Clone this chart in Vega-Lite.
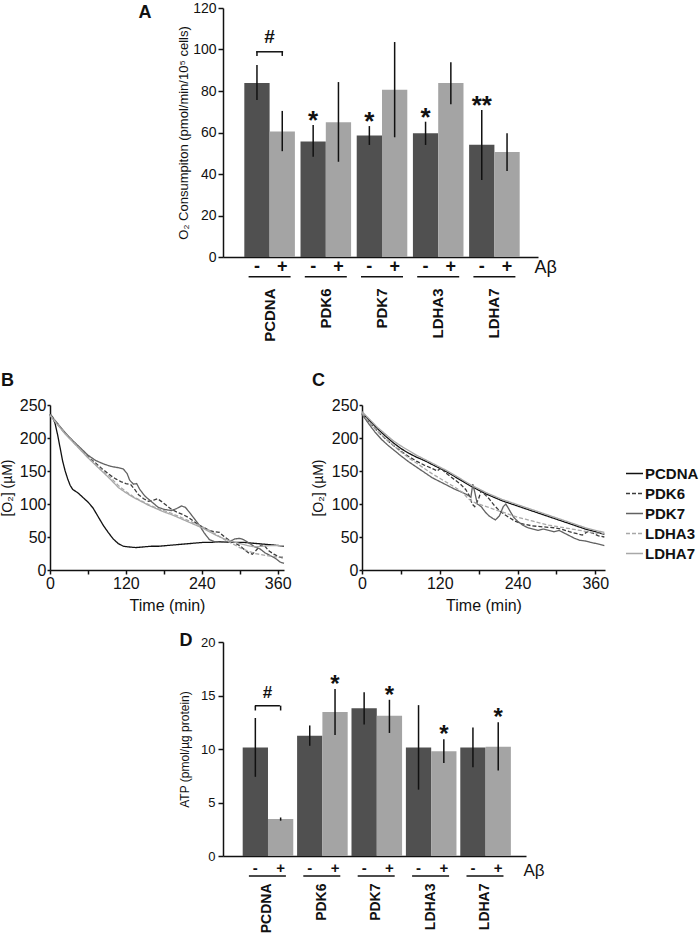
{
  "$schema": "https://vega.github.io/schema/vega-lite/v6.json",
  "padding": {"top": 1, "left": 0, "right": 0, "bottom": 0},
  "background": "white",
  "spacing": 29,
  "resolve": {"scale": {"color": "independent", "strokeDash": "independent"}, "legend": {"color": "independent", "strokeDash": "independent"}},
  "config": {
    "view": {"stroke": null},
    "font": "Liberation Sans",
    "axis": {"grid": false, "domainColor": "#111", "tickColor": "#111", "labelColor": "#111", "titleColor": "#111", "labelFont": "Liberation Sans", "titleFont": "Liberation Sans", "domainWidth": 1.5, "tickWidth": 1.5},
    "text": {"font": "Liberation Sans", "color": "#111"},
    "title": {"font": "Liberation Sans", "color": "#111"},
    "legend": {"labelFont": "Liberation Sans"}
  },
  "datasets": {
    "a": [
      {"g": "PCDNA", "c": "-", "v": 83.9, "lo": 75.7, "hi": 92.5, "sig": ""},
      {"g": "PCDNA", "c": "+", "v": 60.5, "lo": 51.0, "hi": 70.4, "sig": ""},
      {"g": "PDK6", "c": "-", "v": 55.7, "lo": 48.3, "hi": 63.6, "sig": "*"},
      {"g": "PDK6", "c": "+", "v": 65.0, "lo": 45.9, "hi": 84.3, "sig": ""},
      {"g": "PDK7", "c": "-", "v": 58.5, "lo": 54.0, "hi": 63.1, "sig": "*"},
      {"g": "PDK7", "c": "+", "v": 80.6, "lo": 57.7, "hi": 103.6, "sig": ""},
      {"g": "LDHA3", "c": "-", "v": 59.6, "lo": 54.0, "hi": 65.2, "sig": "*"},
      {"g": "LDHA3", "c": "+", "v": 83.9, "lo": 73.6, "hi": 93.8, "sig": ""},
      {"g": "LDHA7", "c": "-", "v": 54.1, "lo": 37.1, "hi": 70.8, "sig": "**"},
      {"g": "LDHA7", "c": "+", "v": 50.6, "lo": 41.4, "hi": 59.6, "sig": ""}
    ],
    "abr": [
      {"g": "PCDNA", "c": "-", "y1": 96.9, "y2": 98.9, "lab": "#", "ly": 103.3},
      {"g": "PCDNA", "c": "+", "y1": 96.9, "y2": 98.9, "lab": "", "ly": 103.3}
    ],
    "d": [
      {"g": "PCDNA", "c": "-", "v": 10.14, "lo": 7.4, "hi": 12.9, "sig": ""},
      {"g": "PCDNA", "c": "+", "v": 3.45, "lo": 3.3, "hi": 3.6, "sig": ""},
      {"g": "PDK6", "c": "-", "v": 11.25, "lo": 10.3, "hi": 12.2, "sig": ""},
      {"g": "PDK6", "c": "+", "v": 13.45, "lo": 11.3, "hi": 15.6, "sig": "*"},
      {"g": "PDK7", "c": "-", "v": 13.8, "lo": 12.3, "hi": 15.3, "sig": ""},
      {"g": "PDK7", "c": "+", "v": 13.1, "lo": 11.5, "hi": 14.6, "sig": "*"},
      {"g": "LDHA3", "c": "-", "v": 10.15, "lo": 6.2, "hi": 14.1, "sig": ""},
      {"g": "LDHA3", "c": "+", "v": 9.8, "lo": 8.7, "hi": 10.9, "sig": "*"},
      {"g": "LDHA7", "c": "-", "v": 10.15, "lo": 8.3, "hi": 12.0, "sig": ""},
      {"g": "LDHA7", "c": "+", "v": 10.2, "lo": 8.0, "hi": 12.5, "sig": "*"}
    ],
    "dbr": [
      {"g": "PCDNA", "c": "-", "y1": 13.6, "y2": 14.05, "lab": "#", "ly": 14.74},
      {"g": "PCDNA", "c": "+", "y1": 13.6, "y2": 14.05, "lab": "", "ly": 14.74}
    ],
    "b": [
      {"s":"PCDNA","t":0,"v":236},{"s":"PCDNA","t":4,"v":232},{"s":"PCDNA","t":8,"v":222},{"s":"PCDNA","t":12,"v":205},{"s":"PCDNA","t":16,"v":185},{"s":"PCDNA","t":20,"v":165},{"s":"PCDNA","t":24,"v":150},{"s":"PCDNA","t":28,"v":138},{"s":"PCDNA","t":32,"v":128},{"s":"PCDNA","t":36,"v":122},{"s":"PCDNA","t":44,"v":117},{"s":"PCDNA","t":52,"v":110},{"s":"PCDNA","t":60,"v":103},{"s":"PCDNA","t":68,"v":94},{"s":"PCDNA","t":76,"v":81},{"s":"PCDNA","t":84,"v":68},{"s":"PCDNA","t":92,"v":57},{"s":"PCDNA","t":100,"v":47},{"s":"PCDNA","t":108,"v":40},{"s":"PCDNA","t":116,"v":36},{"s":"PCDNA","t":124,"v":35},{"s":"PCDNA","t":136,"v":34},{"s":"PCDNA","t":148,"v":35},{"s":"PCDNA","t":160,"v":36},{"s":"PCDNA","t":172,"v":36},{"s":"PCDNA","t":184,"v":37},{"s":"PCDNA","t":196,"v":38},{"s":"PCDNA","t":208,"v":39},{"s":"PCDNA","t":220,"v":40},{"s":"PCDNA","t":232,"v":41},{"s":"PCDNA","t":244,"v":42},{"s":"PCDNA","t":256,"v":42},{"s":"PCDNA","t":268,"v":43},{"s":"PCDNA","t":280,"v":42},{"s":"PCDNA","t":292,"v":42},{"s":"PCDNA","t":304,"v":42},{"s":"PCDNA","t":316,"v":41},{"s":"PCDNA","t":328,"v":40},{"s":"PCDNA","t":340,"v":39},{"s":"PCDNA","t":352,"v":38},{"s":"PCDNA","t":362,"v":37},{"s":"PCDNA","t":370,"v":36},
      {"s":"PDK6","t":0,"v":235},{"s":"PDK6","t":12,"v":221},{"s":"PDK6","t":24,"v":207},{"s":"PDK6","t":36,"v":195},{"s":"PDK6","t":48,"v":184},{"s":"PDK6","t":60,"v":172},{"s":"PDK6","t":72,"v":162},{"s":"PDK6","t":84,"v":152},{"s":"PDK6","t":96,"v":143},{"s":"PDK6","t":104,"v":138},{"s":"PDK6","t":112,"v":134},{"s":"PDK6","t":120,"v":131},{"s":"PDK6","t":128,"v":129},{"s":"PDK6","t":134,"v":122},{"s":"PDK6","t":140,"v":114},{"s":"PDK6","t":148,"v":108},{"s":"PDK6","t":156,"v":104},{"s":"PDK6","t":164,"v":106},{"s":"PDK6","t":170,"v":108},{"s":"PDK6","t":176,"v":104},{"s":"PDK6","t":184,"v":98},{"s":"PDK6","t":192,"v":92},{"s":"PDK6","t":200,"v":88},{"s":"PDK6","t":210,"v":84},{"s":"PDK6","t":220,"v":79},{"s":"PDK6","t":228,"v":73},{"s":"PDK6","t":236,"v":68},{"s":"PDK6","t":244,"v":64},{"s":"PDK6","t":252,"v":60},{"s":"PDK6","t":260,"v":58},{"s":"PDK6","t":268,"v":57},{"s":"PDK6","t":276,"v":50},{"s":"PDK6","t":284,"v":45},{"s":"PDK6","t":292,"v":41},{"s":"PDK6","t":300,"v":37},{"s":"PDK6","t":306,"v":32},{"s":"PDK6","t":314,"v":26},{"s":"PDK6","t":320,"v":24},{"s":"PDK6","t":326,"v":30},{"s":"PDK6","t":334,"v":38},{"s":"PDK6","t":340,"v":36},{"s":"PDK6","t":346,"v":29},{"s":"PDK6","t":354,"v":24},{"s":"PDK6","t":362,"v":20},{"s":"PDK6","t":370,"v":18},
      {"s":"PDK7","t":0,"v":236},{"s":"PDK7","t":12,"v":222},{"s":"PDK7","t":24,"v":208},{"s":"PDK7","t":36,"v":196},{"s":"PDK7","t":48,"v":185},{"s":"PDK7","t":60,"v":174},{"s":"PDK7","t":72,"v":166},{"s":"PDK7","t":84,"v":161},{"s":"PDK7","t":96,"v":157},{"s":"PDK7","t":108,"v":155},{"s":"PDK7","t":116,"v":153},{"s":"PDK7","t":122,"v":146},{"s":"PDK7","t":126,"v":136},{"s":"PDK7","t":132,"v":130},{"s":"PDK7","t":137,"v":131},{"s":"PDK7","t":142,"v":122},{"s":"PDK7","t":150,"v":112},{"s":"PDK7","t":160,"v":104},{"s":"PDK7","t":171,"v":95},{"s":"PDK7","t":180,"v":92},{"s":"PDK7","t":192,"v":90},{"s":"PDK7","t":200,"v":93},{"s":"PDK7","t":208,"v":97},{"s":"PDK7","t":214,"v":95},{"s":"PDK7","t":220,"v":88},{"s":"PDK7","t":228,"v":78},{"s":"PDK7","t":236,"v":68},{"s":"PDK7","t":244,"v":56},{"s":"PDK7","t":252,"v":46},{"s":"PDK7","t":260,"v":43},{"s":"PDK7","t":272,"v":42},{"s":"PDK7","t":284,"v":43},{"s":"PDK7","t":292,"v":47},{"s":"PDK7","t":300,"v":48},{"s":"PDK7","t":306,"v":46},{"s":"PDK7","t":316,"v":40},{"s":"PDK7","t":324,"v":35},{"s":"PDK7","t":332,"v":32},{"s":"PDK7","t":340,"v":26},{"s":"PDK7","t":348,"v":22},{"s":"PDK7","t":356,"v":18},{"s":"PDK7","t":364,"v":12},{"s":"PDK7","t":370,"v":10},
      {"s":"LDHA3","t":0,"v":235},{"s":"LDHA3","t":12,"v":221},{"s":"LDHA3","t":24,"v":207},{"s":"LDHA3","t":36,"v":195},{"s":"LDHA3","t":48,"v":183},{"s":"LDHA3","t":60,"v":171},{"s":"LDHA3","t":72,"v":160},{"s":"LDHA3","t":84,"v":150},{"s":"LDHA3","t":96,"v":140},{"s":"LDHA3","t":108,"v":128},{"s":"LDHA3","t":120,"v":119},{"s":"LDHA3","t":132,"v":111},{"s":"LDHA3","t":144,"v":105},{"s":"LDHA3","t":156,"v":99},{"s":"LDHA3","t":168,"v":94},{"s":"LDHA3","t":180,"v":90},{"s":"LDHA3","t":192,"v":86},{"s":"LDHA3","t":204,"v":81},{"s":"LDHA3","t":216,"v":76},{"s":"LDHA3","t":228,"v":71},{"s":"LDHA3","t":240,"v":66},{"s":"LDHA3","t":252,"v":60},{"s":"LDHA3","t":264,"v":53},{"s":"LDHA3","t":276,"v":46},{"s":"LDHA3","t":288,"v":40},{"s":"LDHA3","t":300,"v":34},{"s":"LDHA3","t":312,"v":29},{"s":"LDHA3","t":324,"v":25},{"s":"LDHA3","t":336,"v":23},{"s":"LDHA3","t":348,"v":21},{"s":"LDHA3","t":360,"v":20},{"s":"LDHA3","t":370,"v":20},
      {"s":"LDHA7","t":0,"v":234},{"s":"LDHA7","t":12,"v":220},{"s":"LDHA7","t":24,"v":206},{"s":"LDHA7","t":36,"v":194},{"s":"LDHA7","t":48,"v":182},{"s":"LDHA7","t":60,"v":170},{"s":"LDHA7","t":72,"v":159},{"s":"LDHA7","t":84,"v":148},{"s":"LDHA7","t":96,"v":137},{"s":"LDHA7","t":108,"v":125},{"s":"LDHA7","t":120,"v":117},{"s":"LDHA7","t":132,"v":110},{"s":"LDHA7","t":144,"v":104},{"s":"LDHA7","t":156,"v":98},{"s":"LDHA7","t":168,"v":93},{"s":"LDHA7","t":180,"v":88},{"s":"LDHA7","t":192,"v":84},{"s":"LDHA7","t":204,"v":79},{"s":"LDHA7","t":216,"v":74},{"s":"LDHA7","t":228,"v":69},{"s":"LDHA7","t":240,"v":64},{"s":"LDHA7","t":252,"v":58},{"s":"LDHA7","t":264,"v":52},{"s":"LDHA7","t":276,"v":47},{"s":"LDHA7","t":288,"v":43},{"s":"LDHA7","t":300,"v":40},{"s":"LDHA7","t":312,"v":37},{"s":"LDHA7","t":324,"v":35},{"s":"LDHA7","t":336,"v":36},{"s":"LDHA7","t":348,"v":37},{"s":"LDHA7","t":360,"v":37},{"s":"LDHA7","t":370,"v":37}
    ],
    "c": [
      {"s":"PCDNA","t":0,"v":238},{"s":"PCDNA","t":12,"v":226},{"s":"PCDNA","t":24,"v":214},{"s":"PCDNA","t":36,"v":203},{"s":"PCDNA","t":48,"v":193},{"s":"PCDNA","t":60,"v":184},{"s":"PCDNA","t":72,"v":177},{"s":"PCDNA","t":84,"v":171},{"s":"PCDNA","t":96,"v":166},{"s":"PCDNA","t":108,"v":160},{"s":"PCDNA","t":120,"v":154},{"s":"PCDNA","t":132,"v":148},{"s":"PCDNA","t":144,"v":141},{"s":"PCDNA","t":156,"v":134},{"s":"PCDNA","t":168,"v":127},{"s":"PCDNA","t":180,"v":121},{"s":"PCDNA","t":192,"v":115},{"s":"PCDNA","t":204,"v":110},{"s":"PCDNA","t":216,"v":105},{"s":"PCDNA","t":228,"v":101},{"s":"PCDNA","t":240,"v":97},{"s":"PCDNA","t":252,"v":93},{"s":"PCDNA","t":264,"v":89},{"s":"PCDNA","t":276,"v":85},{"s":"PCDNA","t":288,"v":81},{"s":"PCDNA","t":300,"v":77},{"s":"PCDNA","t":312,"v":73},{"s":"PCDNA","t":324,"v":69},{"s":"PCDNA","t":336,"v":65},{"s":"PCDNA","t":348,"v":61},{"s":"PCDNA","t":360,"v":58},{"s":"PCDNA","t":374,"v":54},
      {"s":"PDK6","t":0,"v":236},{"s":"PDK6","t":12,"v":223},{"s":"PDK6","t":24,"v":210},{"s":"PDK6","t":36,"v":199},{"s":"PDK6","t":48,"v":189},{"s":"PDK6","t":60,"v":180},{"s":"PDK6","t":72,"v":172},{"s":"PDK6","t":84,"v":165},{"s":"PDK6","t":96,"v":159},{"s":"PDK6","t":108,"v":154},{"s":"PDK6","t":116,"v":150},{"s":"PDK6","t":122,"v":155},{"s":"PDK6","t":128,"v":148},{"s":"PDK6","t":136,"v":142},{"s":"PDK6","t":144,"v":136},{"s":"PDK6","t":152,"v":130},{"s":"PDK6","t":160,"v":122},{"s":"PDK6","t":166,"v":112},{"s":"PDK6","t":170,"v":100},{"s":"PDK6","t":174,"v":96},{"s":"PDK6","t":180,"v":108},{"s":"PDK6","t":184,"v":120},{"s":"PDK6","t":188,"v":116},{"s":"PDK6","t":196,"v":108},{"s":"PDK6","t":204,"v":98},{"s":"PDK6","t":212,"v":90},{"s":"PDK6","t":220,"v":84},{"s":"PDK6","t":228,"v":79},{"s":"PDK6","t":236,"v":74},{"s":"PDK6","t":244,"v":71},{"s":"PDK6","t":252,"v":69},{"s":"PDK6","t":262,"v":67},{"s":"PDK6","t":272,"v":66},{"s":"PDK6","t":284,"v":65},{"s":"PDK6","t":296,"v":64},{"s":"PDK6","t":308,"v":62},{"s":"PDK6","t":320,"v":58},{"s":"PDK6","t":332,"v":55},{"s":"PDK6","t":340,"v":53},{"s":"PDK6","t":348,"v":58},{"s":"PDK6","t":356,"v":56},{"s":"PDK6","t":364,"v":52},{"s":"PDK6","t":374,"v":50},
      {"s":"PDK7","t":0,"v":236},{"s":"PDK7","t":10,"v":222},{"s":"PDK7","t":20,"v":209},{"s":"PDK7","t":30,"v":198},{"s":"PDK7","t":40,"v":189},{"s":"PDK7","t":50,"v":181},{"s":"PDK7","t":60,"v":173},{"s":"PDK7","t":72,"v":164},{"s":"PDK7","t":84,"v":156},{"s":"PDK7","t":96,"v":148},{"s":"PDK7","t":108,"v":140},{"s":"PDK7","t":120,"v":134},{"s":"PDK7","t":132,"v":128},{"s":"PDK7","t":144,"v":122},{"s":"PDK7","t":156,"v":117},{"s":"PDK7","t":164,"v":113},{"s":"PDK7","t":168,"v":110},{"s":"PDK7","t":171,"v":130},{"s":"PDK7","t":174,"v":118},{"s":"PDK7","t":178,"v":100},{"s":"PDK7","t":184,"v":96},{"s":"PDK7","t":190,"v":88},{"s":"PDK7","t":196,"v":82},{"s":"PDK7","t":202,"v":78},{"s":"PDK7","t":206,"v":76},{"s":"PDK7","t":212,"v":82},{"s":"PDK7","t":218,"v":96},{"s":"PDK7","t":222,"v":100},{"s":"PDK7","t":228,"v":90},{"s":"PDK7","t":234,"v":80},{"s":"PDK7","t":240,"v":74},{"s":"PDK7","t":248,"v":68},{"s":"PDK7","t":256,"v":64},{"s":"PDK7","t":264,"v":62},{"s":"PDK7","t":272,"v":60},{"s":"PDK7","t":280,"v":62},{"s":"PDK7","t":288,"v":60},{"s":"PDK7","t":296,"v":58},{"s":"PDK7","t":304,"v":60},{"s":"PDK7","t":312,"v":56},{"s":"PDK7","t":320,"v":52},{"s":"PDK7","t":328,"v":48},{"s":"PDK7","t":336,"v":45},{"s":"PDK7","t":344,"v":44},{"s":"PDK7","t":352,"v":42},{"s":"PDK7","t":362,"v":40},{"s":"PDK7","t":374,"v":37},
      {"s":"LDHA3","t":0,"v":238},{"s":"LDHA3","t":12,"v":223},{"s":"LDHA3","t":24,"v":210},{"s":"LDHA3","t":36,"v":199},{"s":"LDHA3","t":48,"v":189},{"s":"LDHA3","t":60,"v":179},{"s":"LDHA3","t":72,"v":170},{"s":"LDHA3","t":84,"v":162},{"s":"LDHA3","t":96,"v":154},{"s":"LDHA3","t":108,"v":146},{"s":"LDHA3","t":120,"v":139},{"s":"LDHA3","t":132,"v":132},{"s":"LDHA3","t":144,"v":125},{"s":"LDHA3","t":156,"v":117},{"s":"LDHA3","t":164,"v":108},{"s":"LDHA3","t":172,"v":103},{"s":"LDHA3","t":180,"v":100},{"s":"LDHA3","t":192,"v":96},{"s":"LDHA3","t":204,"v":92},{"s":"LDHA3","t":216,"v":88},{"s":"LDHA3","t":228,"v":84},{"s":"LDHA3","t":240,"v":80},{"s":"LDHA3","t":252,"v":77},{"s":"LDHA3","t":264,"v":74},{"s":"LDHA3","t":276,"v":71},{"s":"LDHA3","t":288,"v":68},{"s":"LDHA3","t":300,"v":66},{"s":"LDHA3","t":312,"v":64},{"s":"LDHA3","t":324,"v":62},{"s":"LDHA3","t":336,"v":60},{"s":"LDHA3","t":348,"v":58},{"s":"LDHA3","t":360,"v":56},{"s":"LDHA3","t":374,"v":55},
      {"s":"LDHA7","t":0,"v":240},{"s":"LDHA7","t":12,"v":228},{"s":"LDHA7","t":24,"v":216},{"s":"LDHA7","t":36,"v":206},{"s":"LDHA7","t":48,"v":196},{"s":"LDHA7","t":60,"v":188},{"s":"LDHA7","t":72,"v":181},{"s":"LDHA7","t":84,"v":174},{"s":"LDHA7","t":96,"v":168},{"s":"LDHA7","t":108,"v":162},{"s":"LDHA7","t":120,"v":156},{"s":"LDHA7","t":132,"v":150},{"s":"LDHA7","t":144,"v":143},{"s":"LDHA7","t":156,"v":136},{"s":"LDHA7","t":168,"v":129},{"s":"LDHA7","t":180,"v":123},{"s":"LDHA7","t":192,"v":117},{"s":"LDHA7","t":204,"v":112},{"s":"LDHA7","t":216,"v":107},{"s":"LDHA7","t":228,"v":103},{"s":"LDHA7","t":240,"v":99},{"s":"LDHA7","t":252,"v":95},{"s":"LDHA7","t":264,"v":91},{"s":"LDHA7","t":276,"v":87},{"s":"LDHA7","t":288,"v":83},{"s":"LDHA7","t":300,"v":79},{"s":"LDHA7","t":312,"v":75},{"s":"LDHA7","t":324,"v":71},{"s":"LDHA7","t":336,"v":67},{"s":"LDHA7","t":348,"v":63},{"s":"LDHA7","t":360,"v":60},{"s":"LDHA7","t":374,"v":57}
    ]
  },
  "vconcat": [
    {
      "spacing": 0,
      "hconcat": [
        {"width": 85, "height": 1, "data": {"values": [{"k": 0}]}, "mark": {"type": "point", "opacity": 0, "size": 0}, "encoding": {}},
        {
          "width": 315, "height": 249,
          "resolve": {"axis": {"y": "independent"}},
          "encoding": {
            "x": {"field": "g", "type": "nominal", "sort": ["PCDNA", "PDK6", "PDK7", "LDHA3", "LDHA7"],
              "scale": {"paddingInner": 0.1, "paddingOuter": 0.3525, "align": 0.538},
              "axis": {"title": "Aβ", "titleX": 311, "titleY": 10, "titleAlign": "left", "titleBaseline": "middle", "titleAngle": 0, "titleFontSize": 18, "titleFontWeight": "normal", "labelAngle": -90, "labelPadding": 31, "labelFontSize": 15, "labelFontWeight": "bold", "ticks": false}}
          },
          "layer": [
            {"data": {"name": "a"}, "mark": {"type": "bar"},
             "encoding": {
               "xOffset": {"field": "c", "type": "nominal", "sort": ["-", "+"], "scale": {"paddingInner": 0, "paddingOuter": 0}},
               "y": {"field": "v", "type": "quantitative", "scale": {"domain": [0, 120], "nice": false},
                 "axis": {"orient": "left", "title": "O₂ Consumpiton (pmol/min/10⁵ cells)", "titleFontSize": 13, "titleFontWeight": "normal", "titleX": -33, "labelFontSize": 14, "tickSize": 5, "labelPadding": 2, "minExtent": 88, "values": [0, 20, 40, 60, 80, 100, 120]}},
               "color": {"field": "c", "type": "nominal", "scale": {"domain": ["-", "+"], "range": ["#505050", "#a4a4a4"]}, "legend": null}}},
            {"data": {"name": "a"}, "mark": {"type": "rule", "strokeWidth": 1.5, "color": "#111"},
             "encoding": {
               "xOffset": {"field": "c", "type": "nominal", "sort": ["-", "+"], "scale": {"paddingInner": 0, "paddingOuter": 0}},
               "y": {"field": "lo", "type": "quantitative",
                 "axis": {"orient": "left", "title": "A", "titleX": -85, "titleY": 9, "titleAngle": 0, "titleAlign": "left", "titleBaseline": "alphabetic", "titleFontSize": 18, "titleFontWeight": "bold", "labels": false, "ticks": false, "domain": false, "minExtent": 0}},
               "y2": {"field": "hi"}}},
            {"data": {"name": "a"}, "transform": [{"filter": "datum.sig != ''"}],
             "mark": {"type": "text", "fontSize": 26, "fontWeight": "bold", "baseline": "alphabetic", "dy": 4},
             "encoding": {
               "xOffset": {"field": "c", "type": "nominal", "sort": ["-", "+"], "scale": {"paddingInner": 0, "paddingOuter": 0}},
               "y": {"field": "hi", "type": "quantitative", "axis": null}, "text": {"field": "sig"}}},
            {"data": {"name": "a"}, "mark": {"type": "text", "fontSize": 18, "fontWeight": "bold", "baseline": "middle"},
             "encoding": {
               "xOffset": {"field": "c", "type": "nominal", "sort": ["-", "+"], "scale": {"paddingInner": 0, "paddingOuter": 0}},
               "y": {"datum": -4.8, "type": "quantitative", "axis": null}, "text": {"field": "c"}}},
            {"data": {"name": "a"}, "transform": [{"filter": "datum.c == '-'"}],
             "mark": {"type": "tick", "size": 42, "thickness": 1.5, "color": "#111", "opacity": 1},
             "encoding": {"y": {"datum": -9.5, "type": "quantitative", "axis": null}}},
            {"data": {"name": "abr"}, "mark": {"type": "rule", "strokeWidth": 1.5, "color": "#111"},
             "encoding": {
               "xOffset": {"field": "c", "type": "nominal", "sort": ["-", "+"], "scale": {"paddingInner": 0, "paddingOuter": 0}},
               "y": {"field": "y1", "type": "quantitative", "axis": null}, "y2": {"field": "y2"}}},
            {"data": {"name": "abr"}, "transform": [{"filter": "datum.c == '-'"}],
             "mark": {"type": "tick", "size": 27, "thickness": 1.5, "color": "#111", "opacity": 1},
             "encoding": {"y": {"field": "y2", "type": "quantitative", "axis": null}}},
            {"data": {"name": "abr"}, "transform": [{"filter": "datum.c == '-'"}],
             "mark": {"type": "text", "fontSize": 19, "fontWeight": "bold", "baseline": "alphabetic"},
             "encoding": {"y": {"field": "ly", "type": "quantitative", "axis": null}, "text": {"field": "lab"}}}
          ]
        }
      ]
    },
    {
      "spacing": 18,
      "resolve": {"scale": {"color": "independent", "strokeDash": "independent"}, "legend": {"color": "independent", "strokeDash": "independent"}},
      "vconcat": [
        {
          "spacing": 19,
          "resolve": {"scale": {"color": "independent", "strokeDash": "independent"}, "legend": {"color": "independent", "strokeDash": "independent"}},
          "hconcat": [
            {
              "width": 234, "height": 165,
              "resolve": {"axis": {"x": "independent", "y": "independent"}},
              "layer": [
                {
                  "data": {"name": "b"},
                  "mark": {"type": "line", "strokeWidth": 1.3},
                  "encoding": {
                    "x": {"field": "t", "type": "quantitative", "scale": {"domain": [0, 370], "nice": false},
                      "axis": {"title": "Time (min)", "titleFontSize": 16, "titleFontWeight": "normal", "titlePadding": 6, "labelFontSize": 16, "tickSize": 4, "labelPadding": 1, "values": [0, 60, 120, 180, 240, 300, 360], "labelExpr": "datum.value % 120 === 0 ? datum.label : ''", "labelFlush": false, "labelOverlap": false}},
                    "y": {"field": "v", "type": "quantitative", "scale": {"domain": [0, 250], "nice": false},
                      "axis": {"title": "[O₂] (µM)", "titleFontSize": 14, "titleFontWeight": "normal", "titleX": -36, "labelFontSize": 16, "tickSize": 3, "labelPadding": 1, "minExtent": 49, "values": [0, 50, 100, 150, 200, 250], "labelOverlap": false}},
                    "color": {"field": "s", "type": "nominal", "scale": {"domain": ["PCDNA", "PDK6", "PDK7", "LDHA3", "LDHA7"], "range": ["#111111", "#3c3c3c", "#626262", "#a8a8a8", "#a8a8a8"]}, "legend": null},
                    "strokeDash": {"field": "s", "type": "nominal", "scale": {"domain": ["PCDNA", "PDK6", "PDK7", "LDHA3", "LDHA7"], "range": [[1, 0], [4, 2], [1, 0], [4, 2], [1, 0]]}, "legend": null}
                  }
                },
                {
                  "data": {"values": [{"lab": "B"}]},
                  "mark": {"type": "text", "fontSize": 18, "fontWeight": "bold", "align": "left", "baseline": "alphabetic"},
                  "encoding": {"x": {"datum": -77.5, "type": "quantitative", "axis": null}, "y": {"datum": 278.8, "type": "quantitative", "axis": null}, "text": {"field": "lab"}}
                }
              ]
            },
            {
              "width": 243, "height": 165,
              "resolve": {"axis": {"x": "independent", "y": "independent"}},
              "layer": [
                {
                  "data": {"name": "c"},
                  "mark": {"type": "line", "strokeWidth": 1.3},
                  "encoding": {
                    "x": {"field": "t", "type": "quantitative", "scale": {"domain": [0, 375], "nice": false},
                      "axis": {"title": "Time (min)", "titleFontSize": 16, "titleFontWeight": "normal", "titlePadding": 6, "labelFontSize": 16, "tickSize": 4, "labelPadding": 1, "values": [0, 60, 120, 180, 240, 300, 360], "labelExpr": "datum.value % 120 === 0 ? datum.label : ''", "labelFlush": false, "labelOverlap": false}},
                    "y": {"field": "v", "type": "quantitative", "scale": {"domain": [0, 250], "nice": false},
                      "axis": {"title": "[O₂] (µM)", "titleFontSize": 14, "titleFontWeight": "normal", "titleX": -37, "labelFontSize": 16, "tickSize": 3, "labelPadding": 1, "minExtent": 51, "values": [0, 50, 100, 150, 200, 250], "labelOverlap": false}},
                    "color": {"field": "s", "type": "nominal", "scale": {"domain": ["PCDNA", "PDK6", "PDK7", "LDHA3", "LDHA7"], "range": ["#111111", "#3c3c3c", "#626262", "#a8a8a8", "#a8a8a8"]},
                      "legend": {"title": null, "orient": "none", "legendX": 263, "legendY": 59, "padding": 0, "symbolType": "stroke", "symbolSize": 289, "symbolStrokeWidth": 1.5, "labelFontSize": 15, "labelFontWeight": "bold", "labelColor": "#111", "labelOffset": 1, "rowPadding": 2}},
                    "strokeDash": {"field": "s", "type": "nominal", "scale": {"domain": ["PCDNA", "PDK6", "PDK7", "LDHA3", "LDHA7"], "range": [[1, 0], [4, 2], [1, 0], [4, 2], [1, 0]]},
                      "legend": {"title": null, "orient": "none", "legendX": 263, "legendY": 59, "padding": 0, "symbolType": "stroke", "symbolSize": 289, "symbolStrokeWidth": 1.5, "labelFontSize": 15, "labelFontWeight": "bold", "labelColor": "#111", "labelOffset": 1, "rowPadding": 2}}
                  }
                },
                {
                  "data": {"values": [{"lab": "C"}]},
                  "mark": {"type": "text", "fontSize": 18, "fontWeight": "bold", "align": "left", "baseline": "alphabetic"},
                  "encoding": {"x": {"datum": -77.2, "type": "quantitative", "axis": null}, "y": {"datum": 278.8, "type": "quantitative", "axis": null}, "text": {"field": "lab"}}
                }
              ]
            }
          ]
        },
        {
          "spacing": 0,
          "hconcat": [
            {"width": 127, "height": 1, "data": {"values": [{"k": 0}]}, "mark": {"type": "point", "opacity": 0, "size": 0}, "encoding": {}},
            {
              "width": 303, "height": 214,
              "resolve": {"axis": {"y": "independent"}},
              "encoding": {
                "x": {"field": "g", "type": "nominal", "sort": ["PCDNA", "PDK6", "PDK7", "LDHA3", "LDHA7"],
                  "scale": {"paddingInner": 0.092, "paddingOuter": 0.331, "align": 0.547},
                  "axis": {"title": "Aβ", "titleX": 300, "titleY": 14, "titleAlign": "left", "titleBaseline": "middle", "titleAngle": 0, "titleFontSize": 17, "titleFontWeight": "normal", "labelAngle": -90, "labelPadding": 27, "labelFontSize": 14, "labelFontWeight": "bold", "ticks": false}}
              },
              "layer": [
                {"data": {"name": "d"}, "mark": {"type": "bar"},
                 "encoding": {
                   "xOffset": {"field": "c", "type": "nominal", "sort": ["-", "+"], "scale": {"paddingInner": 0, "paddingOuter": 0}},
                   "y": {"field": "v", "type": "quantitative", "scale": {"domain": [0, 20], "nice": false},
                     "axis": {"orient": "left", "title": "ATP (pmol/µg protein)", "titleFontSize": 12, "titleFontWeight": "normal", "titleX": -32, "labelFontSize": 13, "tickSize": 5, "labelPadding": 3, "minExtent": 46, "values": [0, 5, 10, 15, 20]}},
                   "color": {"field": "c", "type": "nominal", "scale": {"domain": ["-", "+"], "range": ["#505050", "#a4a4a4"]}, "legend": null}}},
                {"data": {"name": "d"}, "mark": {"type": "rule", "strokeWidth": 1.5, "color": "#111"},
                 "encoding": {
                   "xOffset": {"field": "c", "type": "nominal", "sort": ["-", "+"], "scale": {"paddingInner": 0, "paddingOuter": 0}},
                   "y": {"field": "lo", "type": "quantitative",
                     "axis": {"orient": "left", "title": "D", "titleX": -44, "titleY": 3, "titleAngle": 0, "titleAlign": "left", "titleBaseline": "alphabetic", "titleFontSize": 18, "titleFontWeight": "bold", "labels": false, "ticks": false, "domain": false, "minExtent": 0}},
                   "y2": {"field": "hi"}}},
                {"data": {"name": "d"}, "transform": [{"filter": "datum.sig != ''"}],
                 "mark": {"type": "text", "fontSize": 24, "fontWeight": "bold", "baseline": "alphabetic", "dy": 3},
                 "encoding": {
                   "xOffset": {"field": "c", "type": "nominal", "sort": ["-", "+"], "scale": {"paddingInner": 0, "paddingOuter": 0}},
                   "y": {"field": "hi", "type": "quantitative", "axis": null}, "text": {"field": "sig"}}},
                {"data": {"name": "d"}, "mark": {"type": "text", "fontSize": 15, "fontWeight": "bold", "baseline": "middle"},
                 "encoding": {
                   "xOffset": {"field": "c", "type": "nominal", "sort": ["-", "+"], "scale": {"paddingInner": 0, "paddingOuter": 0}},
                   "y": {"datum": -1.12, "type": "quantitative", "axis": null}, "text": {"field": "c"}}},
                {"data": {"name": "d"}, "transform": [{"filter": "datum.c == '-'"}],
                 "mark": {"type": "tick", "size": 37, "thickness": 1.5, "color": "#111", "opacity": 1},
                 "encoding": {"y": {"datum": -1.87, "type": "quantitative", "axis": null}}},
                {"data": {"name": "dbr"}, "mark": {"type": "rule", "strokeWidth": 1.5, "color": "#111"},
                 "encoding": {
                   "xOffset": {"field": "c", "type": "nominal", "sort": ["-", "+"], "scale": {"paddingInner": 0, "paddingOuter": 0}},
                   "y": {"field": "y1", "type": "quantitative", "axis": null}, "y2": {"field": "y2"}}},
                {"data": {"name": "dbr"}, "transform": [{"filter": "datum.c == '-'"}],
                 "mark": {"type": "tick", "size": 25, "thickness": 1.5, "color": "#111", "opacity": 1},
                 "encoding": {"y": {"field": "y2", "type": "quantitative", "axis": null}}},
                {"data": {"name": "dbr"}, "transform": [{"filter": "datum.c == '-'"}],
                 "mark": {"type": "text", "fontSize": 17, "fontWeight": "bold", "baseline": "alphabetic"},
                 "encoding": {"y": {"field": "ly", "type": "quantitative", "axis": null}, "text": {"field": "lab"}}}
              ]
            }
          ]
        }
      ]
    }
  ]
}
